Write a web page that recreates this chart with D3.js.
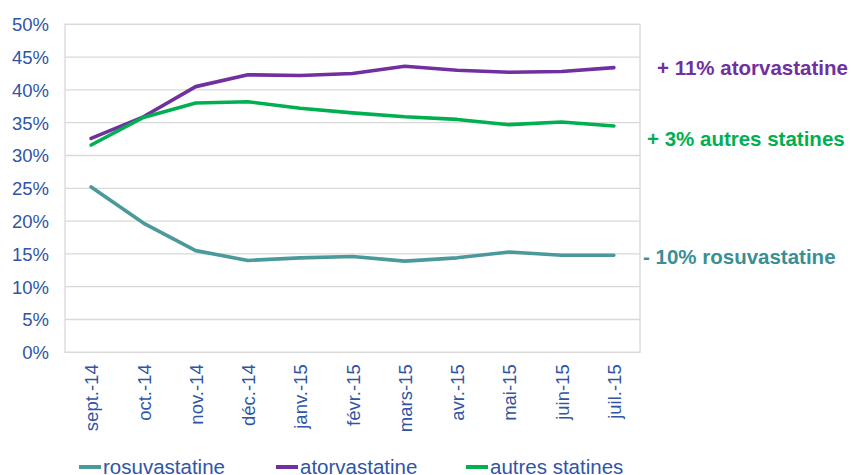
<!DOCTYPE html>
<html>
<head>
	<meta charset="utf-8"/>
	<script src="https://cdn.jsdelivr.net/npm/d3@7"></script>
	<style type="text/css">
		body { margin: 0; background: #fff; }
		svg { font-family: "Liberation Sans", Arial, sans-serif; }
	</style>
</head>
<body>
	<svg id="chart" width="851" height="475"></svg>
	<script type="text/javascript">

		// months (x axis)
		var mois = ["sept.-14", "oct.-14", "nov.-14", "déc.-14", "janv.-15", "févr.-15",
			"mars-15", "avr.-15", "mai-15", "juin-15", "juil.-15"];

		// parts de marché, en %
		var rosuvastatine = [25.2, 19.7, 15.5, 14.0, 14.4, 14.6, 13.9, 14.4, 15.3, 14.8, 14.8];
		var atorvastatine = [32.6, 35.9, 40.5, 42.3, 42.2, 42.5, 43.6, 43.0, 42.7, 42.8, 43.4];
		var autresStatines = [31.6, 35.8, 38.0, 38.2, 37.2, 36.5, 35.9, 35.5, 34.7, 35.1, 34.5];

		var yTicks = [0, 5, 10, 15, 20, 25, 30, 35, 40, 45, 50];

		var series = [
			{name: "rosuvastatine", values: rosuvastatine, color: "#4A9A9C"},
			{name: "atorvastatine", values: atorvastatine, color: "#7030A0"},
			{name: "autres statines", values: autresStatines, color: "#00B050"}
		];

		var annotations = [
			{text: "+ 11% atorvastatine", color: "#7030A0", x: 657, y: 75},
			{text: "+ 3% autres statines", color: "#00B050", x: 647, y: 146},
			{text: "- 10% rosuvastatine", color: "#3A8F94", x: 643, y: 264}
		];

		var textBlue = "#2F55A4";
		var svg = d3.select("#chart");
		var plotLeft = 65, plotRight = 640, plotTop = 24.3, plotBottom = 352.3;

		var x = d3.scalePoint().domain(mois).range([plotLeft, plotRight]).padding(0.5);
		var y = d3.scaleLinear().domain([0, 50]).range([plotBottom, plotTop]);

		// gridlines
		svg.append("g")
			.selectAll("line")
			.data(yTicks).enter()
			.append("line")
			.attr("x1", plotLeft).attr("x2", plotRight)
			.attr("y1", function(d) { return y(d); })
			.attr("y2", function(d) { return y(d); })
			.style("stroke", "#D9D9D9")
			.style("stroke-width", "1.3px");

		// plot border
		svg.append("rect")
			.attr("x", plotLeft).attr("y", plotTop)
			.attr("width", plotRight - plotLeft).attr("height", plotBottom - plotTop)
			.style("fill", "none")
			.style("stroke", "#D9D9D9")
			.style("stroke-width", "1.3px");

		// y axis
		var yAxis = svg.append("g")
			.attr("transform", "translate(" + plotLeft + ",0)")
			.call(d3.axisLeft(y).tickValues(yTicks).tickSize(0).tickPadding(16)
				.tickFormat(function(d) { return d + "%"; }));
		yAxis.select(".domain").remove();
		yAxis.selectAll("text")
			.style("font-size", "18.5px")
			.style("fill", textBlue)
			.attr("dy", "0.35em");

		// x axis
		var xAxis = svg.append("g")
			.attr("transform", "translate(0," + plotBottom + ")")
			.call(d3.axisBottom(x).tickSize(0));
		xAxis.select(".domain").remove();
		xAxis.selectAll("text")
			.style("font-size", "18.5px")
			.style("fill", textBlue)
			.attr("text-anchor", "end")
			.attr("transform", "rotate(-90)")
			.attr("x", -12)
			.attr("y", 0)
			.attr("dy", "0.36em");

		// lines
		var line = d3.line()
			.x(function(d, i) { return x(mois[i]); })
			.y(function(d) { return y(d); });

		svg.append("g")
			.selectAll("path")
			.data(series).enter()
			.append("path")
			.attr("d", function(d) { return line(d.values); })
			.style("fill", "none")
			.style("stroke", function(d) { return d.color; })
			.style("stroke-width", "3.6px")
			.style("stroke-linejoin", "round")
			.style("stroke-linecap", "round");

		// annotations
		svg.append("g")
			.selectAll("text")
			.data(annotations).enter()
			.append("text")
			.attr("x", function(d) { return d.x; })
			.attr("y", function(d) { return d.y; })
			.style("font-size", "20.5px")
			.style("font-weight", "bold")
			.style("fill", function(d) { return d.color; })
			.text(function(d) { return d.text; });

		// legend
		var legendX = [79, 276, 466];
		var legend = svg.append("g")
			.selectAll("g")
			.data(series).enter()
			.append("g")
			.attr("transform", function(d, i) { return "translate(" + legendX[i] + ",467)"; });
		legend.append("line")
			.attr("x1", 0).attr("x2", 22)
			.style("stroke", function(d) { return d.color; })
			.style("stroke-width", "4px");
		legend.append("text")
			.attr("x", 24)
			.attr("y", 6.5)
			.style("font-size", "20.5px")
			.style("fill", textBlue)
			.text(function(d) { return d.name; });

	</script>
</body>
</html>
